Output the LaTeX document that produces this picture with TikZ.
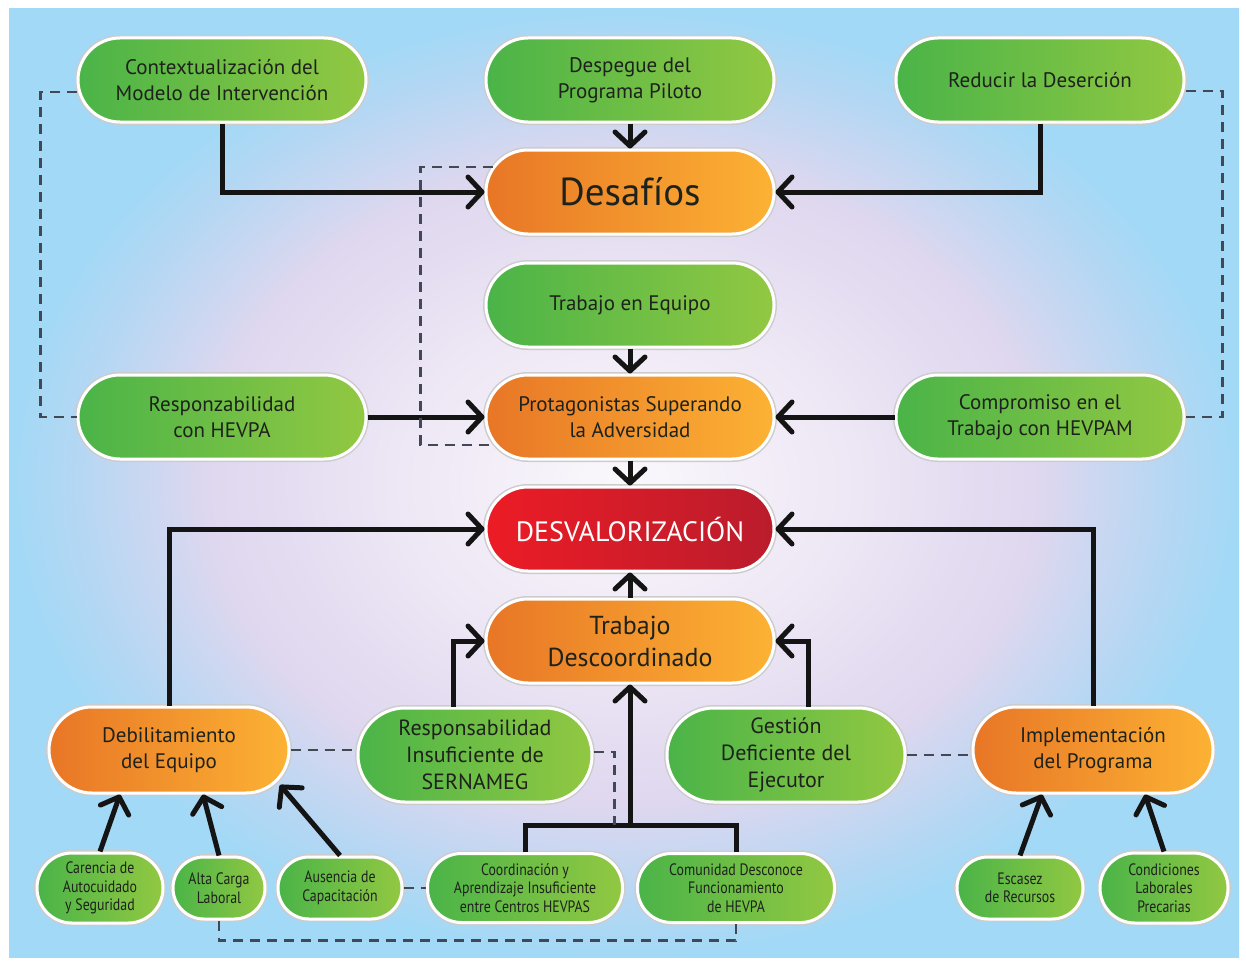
\documentclass[tikz,border=0pt]{standalone}
\usepackage{fontspec}
\setmainfont{PT Sans}
\newfontfamily\angosta[FakeStretch=0.84]{PT Sans}
\usetikzlibrary{arrows.meta, calc}

\definecolor{verdeA}{RGB}{74,180,72}
\definecolor{verdeB}{RGB}{146,200,66}
\definecolor{naranjaA}{RGB}{232,118,38}
\definecolor{naranjaB}{RGB}{252,178,52}
\definecolor{rojoA}{RGB}{236,28,38}
\definecolor{rojoB}{RGB}{186,28,44}
\definecolor{texto}{RGB}{30,34,28}
\definecolor{guion}{RGB}{66,72,84}
\definecolor{fondoA}{RGB}{250,248,252}
\definecolor{fondoB}{RGB}{238,231,245}
\definecolor{fondoC}{RGB}{222,215,239}
\definecolor{fondoD}{RGB}{182,215,243}
\definecolor{fondoE}{RGB}{162,217,246}
\pgfdeclareradialshading{fondo}{\pgfpoint{0bp}{0bp}}{%
  color(0bp)=(fondoA); color(9bp)=(fondoB); color(17bp)=(fondoC);
  color(22bp)=(fondoD); color(25bp)=(fondoE); color(50bp)=(fondoE)}

\begin{document}
\begin{tikzpicture}[x=1pt, y=-1pt, >={Straight Barb[length=14pt, width=30pt, round]}]
    \tikzstyle{caja}=[rectangle, draw=white, line width=3pt, preaction={draw=black!20, line width=6pt},
        text=texto, align=center, inner sep=0pt, font=\fontsize{21}{26}\selectfont]
    \tikzstyle{verde}=[caja, left color=verdeA, right color=verdeB]
    \tikzstyle{naranja}=[caja, left color=naranjaA, right color=naranjaB]
    \tikzstyle{rojo}=[caja, left color=rojoA, right color=rojoB, text=white]
    \tikzstyle{ancha}=[minimum width=288pt, minimum height=84pt, rounded corners=42pt]
    \tikzstyle{media}=[minimum width=240pt, minimum height=86pt, rounded corners=43pt]
    \tikzstyle{chica}=[rounded corners=31pt, font=\angosta\fontsize{16.5}{18.5}\selectfont]
    \tikzstyle{flecha}=[->, line width=5pt, black!92]
    \tikzstyle{guiones}=[guion, line width=2.2pt, dash pattern=on 10pt off 7pt]

    % Fondo
    \fill[white] (0,0) rectangle (1246,966);
    \shade[shading=fondo] (9,9) rectangle (1239,957);
    \useasboundingbox (0,0) rectangle (1246,966);

    % Nodos
    \node[verde, ancha] (contexto) at (222,80) {Contextualización del\\Modelo de Intervención};
    \node[verde, ancha] (despegue) at (630,80) {Despegue del\\Programa Piloto};
    \node[verde, ancha] (desercion) at (1040,80) {Reducir la Deserción};
    \node[naranja, ancha, font=\fontsize{39}{44}\selectfont] (desafios) at (630,192) {Desafíos};
    \node[verde, ancha] (equipo) at (630,305) {Trabajo en Equipo};
    \node[naranja, ancha] (protagonistas) at (630,417) {Protagonistas Superando\\la Adversidad};
    \node[verde, ancha] (responzab) at (222,417) {Responzabilidad\\con HEVPA};
    \node[verde, ancha] (compromiso) at (1040,417) {Compromiso en el\\Trabajo con HEVPAM};
    \node[rojo, ancha, font=\fontsize{28}{32}\selectfont] (desval) at (630,529) {DESVALORIZACIÓN};
    \node[naranja, ancha, font=\fontsize{26}{32}\selectfont] (descoord) at (630,641) {Trabajo\\Descoordinado};

    \node[naranja, media] (debil) at (169,750) {Debilitamiento\\del Equipo};
    \node[verde, media, minimum width=234pt, minimum height=94pt, rounded corners=47pt,
        font=\fontsize{22}{27}\selectfont] (sernameg) at (475,755) {Responsabilidad\\Insuficiente de\\SERNAMEG};
    \node[verde, media, minimum width=238pt, minimum height=94pt, rounded corners=47pt,
        font=\fontsize{22}{27}\selectfont] (gestion) at (786,755) {Gestión\\Deficiente del\\Ejecutor};
    \node[naranja, media] (implementa) at (1093,750) {Implementación\\del Programa};

    % Causas
    \node[verde, chica, minimum width=126pt, minimum height=70pt, rounded corners=35pt] (carencia) at (100,888) {Carencia de\\Autocuidado\\y Seguridad};
    \node[verde, chica, minimum width=92pt, minimum height=62pt] (carga) at (219,888) {Alta Carga\\Laboral};
    \node[verde, chica, minimum width=124pt, minimum height=62pt] (capacita) at (340,888) {Ausencia de\\Capacitación};
    \node[verde, chica, minimum width=195pt, minimum height=69pt, rounded corners=34pt] (aprendizaje) at (525,888) {Coordinación y\\Aprendizaje Insuficiente\\entre Centros HEVPAS};
    \node[verde, chica, minimum width=197pt, minimum height=69pt, rounded corners=34pt] (comunidad) at (736,888) {Comunidad Desconoce\\Funcionamiento\\de HEVPA};
    \node[verde, chica, minimum width=126pt, minimum height=62pt] (escasez) at (1020,888) {Escasez\\de Recursos};
    \node[verde, chica, minimum width=128pt, minimum height=70pt, rounded corners=35pt] (condiciones) at (1164,888) {Condiciones\\Laborales\\Precarias};

    % Flechas
    \draw[flecha] (contexto) |- (desafios);
    \draw[flecha] (despegue) -- (desafios);
    \draw[flecha] (desercion) |- (desafios);
    \draw[flecha] (equipo) -- (protagonistas);
    \draw[flecha] (responzab) -- (protagonistas);
    \draw[flecha] (compromiso) -- (protagonistas);
    \draw[flecha] (protagonistas) -- (desval);
    \draw[flecha] (descoord) -- (desval);
    \draw[flecha] (debil) |- (desval);
    \draw[flecha] (implementa) |- (desval);
    \draw[flecha] ([xshift=-22pt]sernameg.north) |- (descoord);
    \draw[flecha] ([xshift=22pt]gestion.north) |- (descoord);
    \coordinate (union) at (630,825);
    \draw[line width=5pt, black!92] (aprendizaje.north) |- (union) -| (comunidad.north);
    \draw[flecha] (union) -- (descoord);
    \draw[flecha] (carencia.north) -- ([xshift=-49pt]debil.south);
    \draw[flecha] (carga.north) -- ([xshift=34pt]debil.south);
    \draw[flecha] (capacita.north) -- ([shift={(111pt,-35pt)}]debil.center);
    \draw[flecha] (escasez.north) -- ([xshift=-51pt]implementa.south);
    \draw[flecha] (condiciones.north) -- ([xshift=52pt]implementa.south);

    % Lineas punteadas
    \draw[guiones] ([yshift=-12pt]contexto.west) -| ([xshift=-36pt]responzab.west) -- (responzab.west);
    \draw[guiones] ([yshift=-11pt]desercion.east) -| ([xshift=37pt]compromiso.east) -- (compromiso.east);
    \draw[guiones] ([shift={(8pt,25pt)}]desafios.west) -| ([shift={(-64pt,-28pt)}]protagonistas.west)
        -- ([shift={(11pt,-28pt)}]protagonistas.west);
    \draw[guiones] (debil.east) -- (debil.east -| sernameg.west);
    \draw[guiones] (gestion.east) -- (gestion.east -| implementa.west);
    \draw[guiones] ([yshift=3pt]sernameg.east) -- ++(21,0) -- ++(0,73);
    \draw[guiones] (capacita.east) -- (aprendizaje.west);
    \draw[guiones] (carga.south) -- ++(0,20) -| (comunidad.south);
\end{tikzpicture}
\end{document}
